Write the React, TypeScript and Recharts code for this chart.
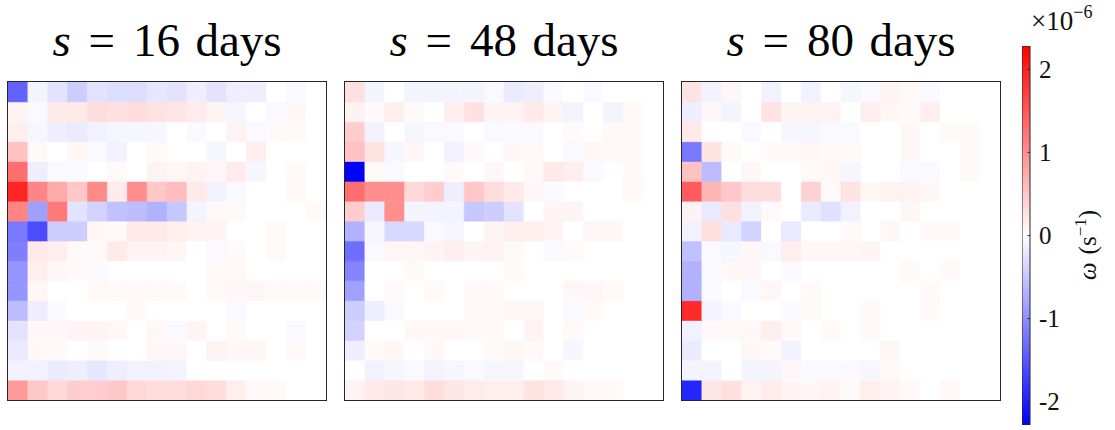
import React from 'react';
import { BarChart, Bar, XAxis, YAxis, Cell } from 'recharts';

// Vorticity fields, units of 1e-6 s^-1. Row 0 is the top row of the grid.
const LAGS = ['16', '48', '80'];
const OMEGA_MAX = 2.28;
const CB_TICKS = [-2, -1, 0, 1, 2];

const OMEGA_16 = [
  [-1.4, -0.1, -0.25, -0.45, -0.25, -0.3, -0.3, -0.22, -0.25, -0.15, -0.25, -0.15, -0.15, 0, -0.05, 0],
  [0.1, -0.05, 0.2, 0.2, 0.3, 0.28, 0.3, 0.25, 0.22, 0.18, 0.1, -0.08, 0, -0.05, 0.07, 0],
  [0.15, -0.08, -0.15, -0.18, -0.12, -0.08, -0.08, -0.08, 0, -0.05, 0, 0.12, -0.05, 0.05, 0.05, 0],
  [0.55, 0.05, 0, 0.08, -0.05, -0.12, 0, 0.05, 0, 0, -0.08, 0, 0.15, 0, 0, 0],
  [1.3, -0.15, -0.05, -0.05, 0, 0.05, 0, 0.12, 0.07, 0.12, 0.07, 0.18, -0.08, 0, 0.05, 0],
  [1.95, 1.1, 0.75, 0.5, 1.05, 0.18, 1.0, 0.5, 0.6, 0.2, -0.12, -0.05, 0, 0, 0.05, 0],
  [1.1, -0.85, 1.2, -0.25, -0.4, -0.55, -0.6, -0.7, -0.5, -0.1, 0.05, 0.05, 0, 0, 0, 0.05],
  [-1.2, -1.6, -0.45, -0.45, 0.08, 0.05, 0.2, 0.2, 0.15, 0.12, 0.12, 0, 0, 0.05, 0, 0],
  [-1.15, 0.2, 0.15, 0.05, 0.05, 0.2, 0.1, 0.1, 0.08, 0, -0.05, 0.05, 0, 0.05, 0, 0],
  [-0.95, 0.15, 0.08, 0.05, -0.05, 0, 0, 0, 0, 0, 0.05, 0.05, 0, 0, 0, 0],
  [-0.95, 0.08, 0, 0, 0.05, 0.05, 0.05, 0.05, 0.05, 0, 0.05, 0.07, 0.07, 0.05, 0.05, 0.05],
  [-0.6, -0.15, -0.05, 0, 0, 0, 0.05, 0, 0, 0, 0, -0.05, 0, 0, 0, 0],
  [-0.25, 0.07, 0.07, 0.1, 0.1, 0.08, 0, 0.07, -0.05, 0.1, 0, 0.05, 0, 0, -0.05, 0],
  [-0.2, 0.07, 0.05, 0, 0.05, 0, 0, 0.07, 0.07, 0, 0.12, 0.07, 0.07, 0, 0.05, 0],
  [-0.12, -0.12, -0.18, -0.15, -0.22, -0.15, -0.12, -0.12, -0.1, 0, 0, 0, 0, 0, 0, 0],
  [0.9, 0.5, 0.35, 0.45, 0.45, 0.5, 0.35, 0.3, 0.3, 0.35, 0.3, 0.15, 0.05, 0.05, 0, 0],
];

const OMEGA_48 = [
  [0.28, -0.1, 0, -0.1, -0.1, -0.1, -0.1, -0.05, -0.18, -0.15, -0.05, 0, -0.05, 0, 0, 0],
  [0.12, 0.05, 0.15, 0.05, 0, 0.15, 0.28, 0.1, 0.1, 0.2, 0.1, -0.1, 0, -0.1, 0.05, 0],
  [0.45, -0.12, 0, -0.08, -0.05, -0.05, 0, -0.05, -0.05, -0.05, 0, 0.05, 0, 0.05, 0.05, 0],
  [0.55, 0.25, -0.08, 0.08, 0, -0.12, 0.05, 0, 0.08, 0.05, 0, -0.05, 0.08, 0.05, 0.05, 0],
  [-2.28, 0.05, -0.05, 0, 0, 0.05, 0, 0.07, 0, 0.05, 0.2, 0.15, -0.05, 0, 0.05, 0],
  [1.3, 1.0, 1.0, 0.35, 0.45, -0.15, 0.5, 0.3, 0.2, 0.08, -0.05, 0, 0, 0, 0.05, 0],
  [0.45, -0.2, 1.0, -0.1, -0.1, -0.1, -0.5, -0.45, -0.25, 0, 0.1, 0.1, 0, 0, 0, 0],
  [-0.7, -0.08, -0.35, -0.35, -0.05, -0.08, 0, 0.1, 0.15, 0.15, 0.1, 0, 0.07, 0.07, 0, 0],
  [-1.3, -0.05, 0.08, 0.07, 0.1, 0.15, 0.1, 0.12, 0.05, 0, -0.05, 0.05, 0, 0, 0, 0],
  [-1.1, 0, 0, 0.05, 0, 0, 0, 0, 0.05, 0, 0, 0, 0, 0, 0, 0],
  [-0.85, 0, 0.05, 0, 0.05, 0, 0.05, 0.05, 0, 0, 0, 0.07, 0.08, 0.05, 0, 0],
  [-0.45, -0.15, -0.05, 0, 0, 0, 0.05, 0.05, 0.07, 0.07, 0, -0.05, 0.05, 0, 0, 0],
  [-0.4, 0, 0, 0.07, 0.07, 0.07, 0.05, 0.05, 0, 0.12, 0, 0.05, 0, 0, 0, 0],
  [-0.15, 0.05, 0.08, 0, 0.07, 0, 0, 0.05, 0.08, 0.05, 0, -0.08, 0, 0, 0, 0],
  [0, -0.12, -0.08, -0.05, -0.1, -0.08, -0.05, -0.08, -0.08, 0, 0.05, 0, 0, 0, 0, 0],
  [0.12, 0.2, 0.22, 0.2, 0.3, 0.22, 0.18, 0.15, 0.15, 0.25, 0.2, 0.1, 0.05, 0.05, 0, 0],
];

const OMEGA_80 = [
  [0.25, -0.12, 0.07, 0, -0.12, 0, -0.12, 0, -0.08, -0.05, 0.1, 0.05, -0.05, 0, 0, 0],
  [-0.15, 0.07, -0.1, 0, 0.25, 0.1, 0.12, 0.12, 0, 0.15, 0.08, 0.05, 0.15, 0, 0, 0],
  [0.2, 0, 0, -0.05, 0, -0.08, -0.08, -0.05, -0.05, 0, 0, 0.07, 0, 0.05, 0.05, 0],
  [-1.2, 0.25, 0.05, 0, 0.05, 0.05, 0.07, 0.05, 0.05, 0, 0, 0.07, 0, 0, 0.05, 0],
  [0.55, -0.6, 0, 0.07, 0, 0, 0.05, 0.07, -0.08, 0, 0, -0.05, -0.05, 0, 0.05, 0],
  [1.45, 0.65, 0.5, 0.3, 0.3, 0, 0.4, 0.05, 0.25, 0.08, 0.12, 0.12, 0.07, 0, 0, 0],
  [0.12, -0.2, 0.28, -0.12, 0.05, 0, -0.18, -0.28, -0.12, 0, 0, 0.07, 0, 0, 0, 0],
  [-0.12, 0.28, -0.2, -0.4, 0, -0.2, 0, 0, 0.05, 0, 0.08, 0, 0.05, 0.05, 0, 0],
  [-0.55, -0.05, -0.08, 0.07, -0.05, 0.15, 0.08, 0.08, 0.07, 0.1, 0, 0, 0, 0, 0, 0],
  [-0.7, -0.05, 0.07, 0.07, 0, -0.05, 0, 0, 0, 0, 0, 0.05, 0, 0.05, 0, 0],
  [-0.7, -0.05, 0, -0.05, 0.07, 0, 0.05, 0, 0, 0, 0, 0, 0.05, 0, 0, 0],
  [1.9, -0.1, -0.05, 0, 0, -0.05, 0.05, 0, 0, 0.05, 0, 0, 0.05, 0, 0, 0],
  [-0.12, 0.05, 0.05, 0.07, 0.15, 0.05, 0, 0.05, 0, 0.05, 0, 0, 0, 0, 0, 0],
  [-0.18, 0, 0, 0.07, 0.05, -0.12, 0, 0, 0, 0, 0.07, 0, 0, 0, 0, 0],
  [-0.1, -0.1, 0, -0.1, -0.1, 0.07, -0.05, -0.05, -0.05, -0.08, 0.05, 0, 0, 0, 0, 0],
  [-1.95, 0.22, 0.28, 0.12, 0.18, 0.1, 0.08, 0.12, 0.05, 0.15, 0.1, 0.05, 0, 0.05, 0, 0],
];

const FIELDS = [OMEGA_16, OMEGA_48, OMEGA_80];
const PANEL_LEFT = [8, 345, 682];
const PANEL_TOP = 82;
const PANEL_SIZE = 318;
const SERIF = '"Liberation Serif", "DejaVu Serif", serif';

// blue - white - red diverging map, clipped at +/- OMEGA_MAX
function omegaColor(v: number) {
  const t = Math.max(-1, Math.min(1, v / OMEGA_MAX));
  if (t >= 0) {
    const g = Math.round(255 * (1 - t));
    return `rgb(255,${g},${g})`;
  }
  const g = Math.round(255 * (1 + t));
  return `rgb(${g},${g},255)`;
}

// one entry per grid column; every row becomes one unit-high stacked segment
function toColumns(grid: number[][]) {
  return grid[0].map((_, c) => {
    const d: Record<string, number> = { col: c };
    grid.forEach((row, r) => {
      d[`r${r}`] = 1;
    });
    return d;
  });
}

function Heatmap({ grid, left, lag }: { grid: number[][]; left: number; lag: string }) {
  const data = toColumns(grid);
  const nRows = grid.length;
  // stack from the bottom row upwards
  const order = grid.map((_, i) => nRows - 1 - i);
  return (
    <>
      <div
        style={{
          position: 'absolute',
          left,
          top: 17,
          width: PANEL_SIZE,
          textAlign: 'center',
          fontFamily: SERIF,
          fontSize: 47,
          lineHeight: 1,
          whiteSpace: 'nowrap',
          wordSpacing: '0.08em',
          color: '#000',
        }}
      >
        <i>s</i>
        <span style={{ margin: '0 0.38em' }}>=</span>
        {lag} days
      </div>
      <div
        style={{
          position: 'absolute',
          left,
          top: PANEL_TOP,
          width: PANEL_SIZE,
          height: PANEL_SIZE,
          outline: '1px solid #262626',
        }}
      >
        <BarChart
          width={PANEL_SIZE}
          height={PANEL_SIZE}
          data={data}
          margin={{ top: 0, right: 0, bottom: 0, left: 0 }}
          barCategoryGap={0}
          barGap={0}
        >
          <XAxis dataKey="col" hide />
          <YAxis type="number" domain={[0, nRows]} hide allowDataOverflow />
          {order.map((r) => (
            <Bar key={r} dataKey={`r${r}`} stackId="grid" isAnimationActive={false}>
              {data.map((_, c) => (
                <Cell
                  key={c}
                  fill={omegaColor(grid[r][c])}
                  stroke={omegaColor(grid[r][c])}
                  strokeWidth={0.6}
                />
              ))}
            </Bar>
          ))}
        </BarChart>
      </div>
    </>
  );
}

function ColorbarTick({ x, y, payload }: any) {
  return (
    <g>
      <line x1={x - 2.5} x2={x} y1={y} y2={y} stroke="#262626" strokeWidth={1} />
      <text x={x + 9} y={y} dy="0.35em" fontFamily={SERIF} fontSize={25} fill="#111">
        {String(payload.value)}
      </text>
    </g>
  );
}

function Colorbar() {
  const cbData = [{ name: 'omega', span: [-OMEGA_MAX, OMEGA_MAX] }];
  return (
    <>
      <svg width={0} height={0} style={{ position: 'absolute' }}>
        <defs>
          <linearGradient id="omegaGrad" x1="0" y1="0" x2="0" y2="1">
            <stop offset="0%" stopColor="rgb(255,0,0)" />
            <stop offset="50%" stopColor="rgb(255,255,255)" />
            <stop offset="100%" stopColor="rgb(0,0,255)" />
          </linearGradient>
        </defs>
      </svg>
      <div style={{ position: 'absolute', left: 1022, top: 46 }}>
        <BarChart
          width={60}
          height={379}
          data={cbData}
          margin={{ top: 0, right: 0, bottom: 0, left: 0 }}
          barCategoryGap={0}
        >
          <XAxis dataKey="name" hide />
          <YAxis
            orientation="right"
            type="number"
            domain={[-OMEGA_MAX, OMEGA_MAX]}
            ticks={CB_TICKS}
            width={52}
            axisLine={false}
            tickLine={false}
            tickSize={0}
            tickMargin={0}
            allowDataOverflow
            tick={<ColorbarTick />}
          />
          <Bar
            dataKey="span"
            fill="url(#omegaGrad)"
            stroke="#262626"
            strokeWidth={1}
            isAnimationActive={false}
          />
        </BarChart>
      </div>
      <svg width={90} height={40} style={{ position: 'absolute', left: 1025, top: 0 }}>
        <text x={6} y={30} fontFamily={SERIF} fontSize={27} fill="#111">
          ×10
          <tspan fontSize={18} dy={-12}>−6</tspan>
        </text>
      </svg>
      <svg width={40} height={140} style={{ position: 'absolute', left: 1067, top: 175 }}>
        <text
          transform="translate(20,70) rotate(-90)"
          textAnchor="middle"
          dy="0.35em"
          fontFamily={SERIF}
          fontSize={25}
          fill="#111"
        >
          <tspan fontStyle="italic">ω</tspan>
          <tspan dx={8}>(s</tspan>
          <tspan fontSize={17} dy={-10}>−1</tspan>
          <tspan dy={10}>)</tspan>
        </text>
      </svg>
    </>
  );
}

export default function App() {
  return (
    <div
      style={{
        position: 'absolute',
        left: 0,
        top: 0,
        width: 1115,
        height: 430,
        background: '#fff',
        overflow: 'hidden',
      }}
    >
      {FIELDS.map((grid, i) => (
        <Heatmap key={LAGS[i]} grid={grid} left={PANEL_LEFT[i]} lag={LAGS[i]} />
      ))}
      <Colorbar />
    </div>
  );
}
